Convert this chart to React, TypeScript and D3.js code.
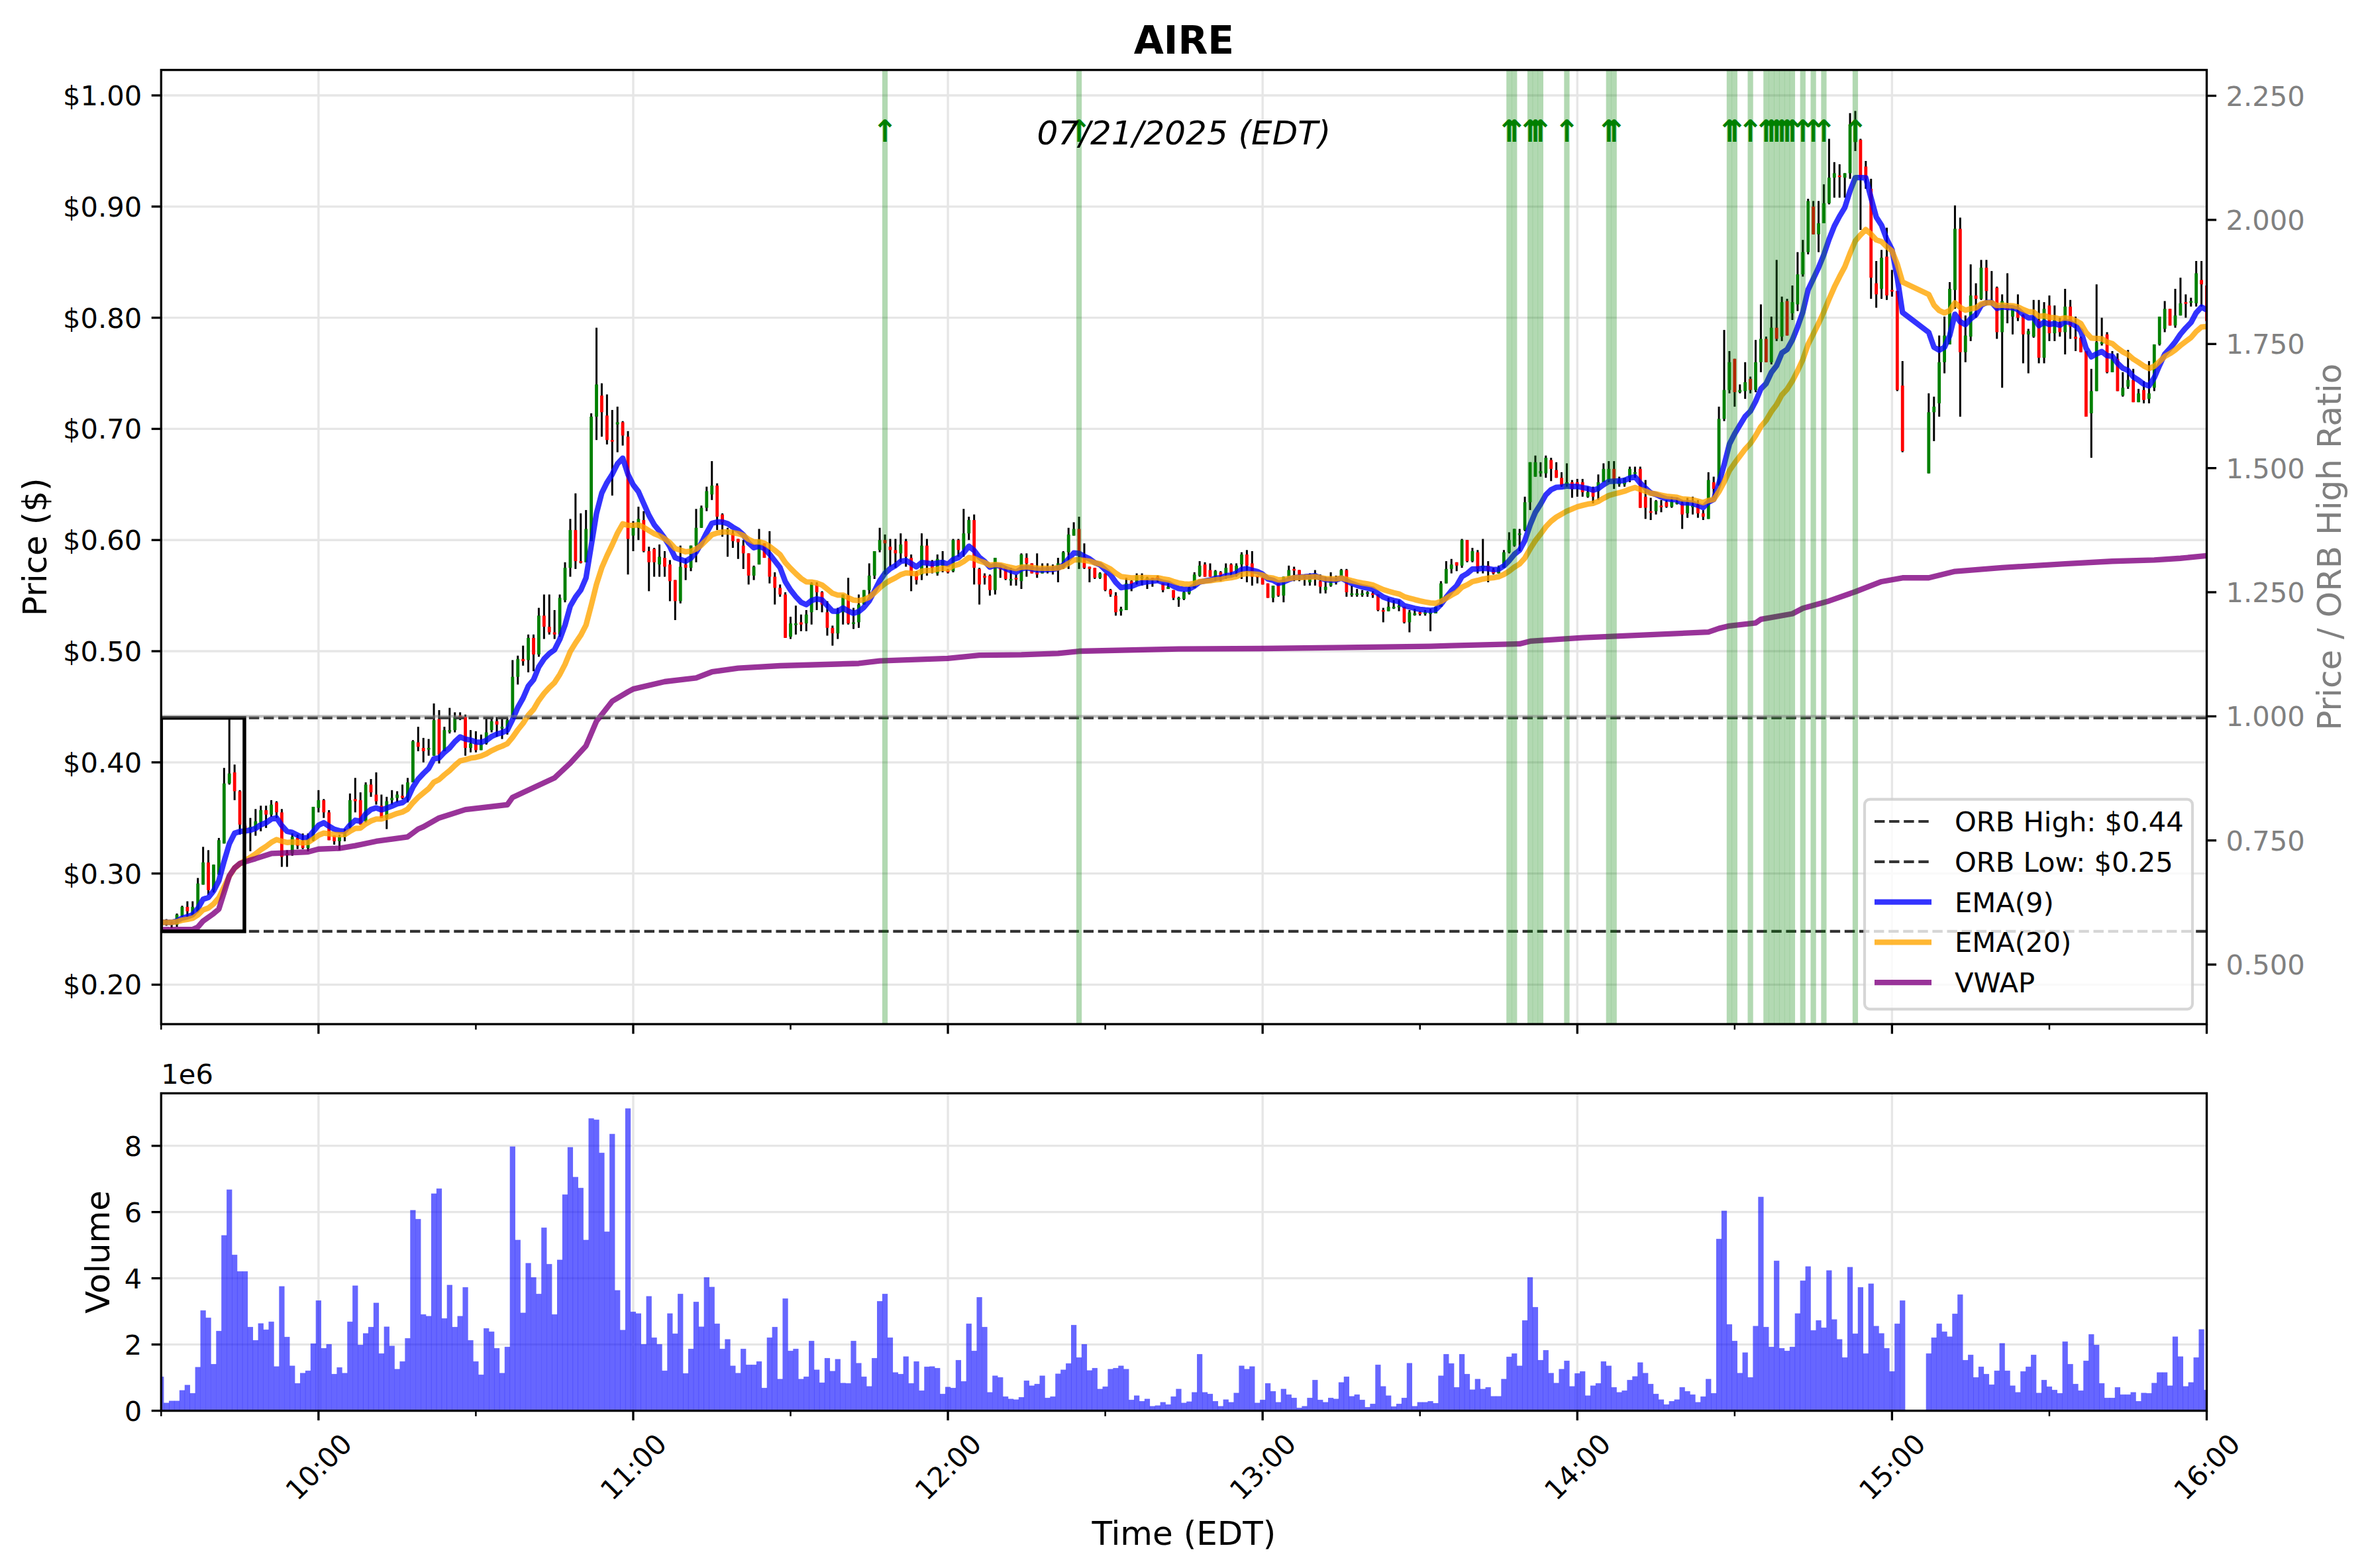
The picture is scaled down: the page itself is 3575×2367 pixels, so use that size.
import React from "react";
import * as d3 from "d3";

// ---- chart data (1-minute bars, minutes after 09:30) ----
const ticker = "AIRE";
const sessionLabel = "07/21/2025 (EDT)";
const orbHigh = 0.44;
const orbLow = 0.248;
const orbBoxMinutes = 15.87;
const missingMinutes = [333, 334, 335, 336];
const minutes = d3.range(0, 391).filter((m) => !missingMinutes.includes(m));

const opens = [
  .268,.256,.256,.254,.262,.270,.263,.266,.290,.310, .285,.299,.327,.381,.391,.374,.343,.340,.340,.346,
  .357,.353,.364,.355,.318,.318,.332,.329,.323,.330, .359,.366,.355,.334,.329,.333,.342,.367,.366,.347,
  .380,.371,.361,.350,.366,.368,.370,.368,.382,.418, .413,.413,.406,.439,.410,.429,.429,.442,.441,.413,
  .417,.411,.417,.429,.437,.431,.432,.440,.477,.493, .492,.512,.497,.532,.522,.517,.515,.546,.575,.609,
  .581,.580,.599,.711,.730,.712,.690,.704,.706,.693, .604,.611,.618,.590,.592,.578,.584,.578,.564,.545,
  .578,.575,.595,.611,.629,.641,.649,.623,.608,.606, .601,.595,.588,.568,.578,.597,.584,.567,.557,.551,
  .513,.525,.526,.525,.535,.560,.553,.535,.521,.516, .535,.550,.525,.526,.542,.555,.568,.591,.600,.594,
  .591,.588,.599,.584,.571,.569,.595,.580,.570,.577, .573,.572,.600,.591,.606,.618,.574,.568,.568,.555,
  .575,.575,.564,.566,.563,.584,.579,.571,.570,.572, .573,.574,.575,.589,.604,.610,.585,.576,.575,.566,
  .570,.555,.550,.536,.537,.563,.562,.566,.566,.566, .567,.561,.556,.555,.547,.547,.552,.557,.568,.578,
  .573,.567,.571,.570,.578,.572,.578,.587,.579,.568, .566,.561,.548,.561,.550,.565,.574,.573,.568,.562,
  .569,.563,.555,.559,.564,.567,.573,.552,.551,.552, .553,.552,.551,.537,.536,.540,.540,.540,.526,.534,
  .535,.534,.535,.534,.540,.561,.574,.580,.577,.600, .581,.589,.575,.577,.573,.570,.575,.589,.595,.605,
  .609,.634,.657,.660,.660,.672,.663,.656,.650,.652, .652,.652,.639,.646,.644,.652,.654,.664,.650,.650,
  .656,.660,.664,.639,.626,.626,.631,.634,.630,.634, .633,.624,.630,.632,.624,.619,.652,.649,.709,.735,
  .763,.733,.734,.745,.735,.760,.781,.760,.791,.783, .815,.804,.812,.839,.859,.900,.875,.885,.903,.926,
  .928,.926,.930,.958,.960,.936,.916,.831,.826,.855, .825,.824,.739,
  .660,.715,.723,.760,.776,.825,.880,.769,.783,.820, .817,.845,.815,.827,.787,.810,.801,.806,.802,.785,
  .783,.798,.764,.811,.786,.795,.787,.810,.783,.782, .770,.714,.734,.778,.785,.751,.763,.730,.738,.744,
  .724,.735,.727,.737,.776,.790,.808,.793,.802,.814, .815,.813,.834,.829,
];
const highs = [
  .270,.259,.257,.264,.271,.275,.275,.296,.324,.321, .308,.332,.395,.439,.398,.375,.345,.350,.358,.361,
  .361,.366,.365,.358,.321,.336,.335,.336,.336,.360, .375,.367,.357,.334,.335,.340,.372,.386,.373,.382,
  .385,.391,.371,.369,.375,.374,.380,.386,.420,.432, .422,.421,.453,.447,.432,.449,.445,.445,.443,.429,
  .428,.425,.440,.440,.441,.440,.440,.492,.496,.505, .515,.515,.539,.551,.551,.537,.551,.580,.619,.642,
  .624,.627,.714,.791,.741,.731,.717,.720,.707,.698, .617,.630,.626,.594,.593,.596,.590,.582,.564,.595,
  .583,.595,.628,.631,.648,.671,.651,.624,.611,.609, .601,.600,.588,.577,.610,.597,.608,.571,.560,.553,
  .531,.541,.533,.537,.562,.562,.554,.545,.523,.539, .551,.566,.539,.551,.555,.579,.590,.611,.605,.601,
  .601,.606,.601,.587,.572,.606,.601,.582,.587,.590, .574,.601,.601,.628,.621,.623,.575,.570,.569,.584,
  .577,.576,.575,.569,.588,.588,.579,.588,.579,.579, .578,.584,.590,.611,.616,.621,.597,.576,.575,.571,
  .570,.556,.553,.540,.566,.564,.570,.570,.567,.566, .568,.561,.561,.555,.549,.554,.558,.571,.581,.580,
  .579,.573,.572,.579,.579,.579,.589,.591,.590,.568, .567,.561,.559,.561,.567,.577,.576,.573,.569,.570,
  .573,.569,.567,.571,.568,.574,.574,.559,.556,.555, .554,.554,.551,.539,.548,.546,.546,.540,.537,.538,
  .536,.537,.538,.540,.563,.581,.583,.580,.601,.600, .593,.591,.601,.581,.575,.577,.591,.607,.610,.610,
  .639,.670,.676,.670,.676,.674,.670,.661,.669,.654, .655,.655,.648,.648,.659,.669,.671,.671,.657,.656,
  .666,.666,.666,.654,.638,.636,.636,.636,.639,.638, .636,.638,.639,.636,.627,.661,.657,.720,.789,.770,
  .763,.740,.760,.747,.780,.812,.783,.801,.852,.819, .817,.829,.859,.870,.907,.905,.905,.920,.961,.940,
  .938,.930,.984,.986,.961,.941,.925,.851,.861,.881, .843,.824,.761,
  .732,.729,.784,.801,.832,.901,.890,.802,.848,.831, .852,.852,.842,.828,.821,.840,.809,.821,.803,.790,
  .816,.816,.814,.820,.811,.800,.826,.816,.801,.783, .770,.754,.830,.800,.787,.770,.768,.751,.771,.754,
  .736,.743,.761,.776,.801,.815,.808,.826,.836,.821, .818,.851,.851,.851,
];
const lows = [
  .254,.253,.251,.252,.261,.261,.262,.265,.290,.281, .283,.299,.327,.380,.366,.335,.335,.320,.334,.338,
  .341,.351,.350,.306,.306,.316,.322,.322,.320,.329, .355,.350,.330,.326,.321,.329,.340,.355,.344,.346,
  .369,.362,.350,.340,.362,.364,.367,.364,.382,.410, .400,.406,.406,.399,.410,.426,.427,.438,.406,.409,
  .409,.411,.416,.427,.423,.421,.425,.440,.470,.487, .481,.482,.495,.511,.515,.511,.513,.544,.567,.574,
  .579,.580,.599,.690,.693,.686,.640,.679,.685,.569, .590,.600,.589,.554,.567,.567,.567,.545,.528,.543,
  .564,.572,.580,.611,.626,.636,.609,.603,.585,.593, .583,.574,.560,.564,.578,.584,.561,.542,.549,.512,
  .511,.515,.518,.518,.524,.537,.535,.514,.505,.511, .524,.524,.520,.521,.542,.550,.565,.589,.569,.576,
  .575,.580,.576,.554,.560,.564,.568,.570,.568,.571, .570,.571,.585,.585,.600,.560,.542,.560,.550,.551,
  .566,.564,.559,.559,.556,.567,.570,.566,.570,.570, .569,.562,.574,.574,.604,.574,.574,.562,.565,.565,
  .554,.549,.532,.532,.537,.554,.560,.559,.556,.558, .562,.553,.556,.546,.540,.546,.551,.557,.567,.567,
  .567,.563,.563,.565,.567,.567,.565,.562,.559,.561, .560,.548,.544,.549,.544,.565,.563,.563,.559,.559,
  .559,.552,.552,.558,.560,.567,.549,.549,.549,.549, .549,.548,.536,.526,.536,.538,.536,.525,.517,.532,
  .532,.532,.518,.534,.540,.561,.570,.572,.575,.580, .580,.570,.570,.562,.569,.570,.575,.588,.594,.590,
  .608,.627,.657,.657,.656,.653,.656,.648,.648,.638, .639,.639,.638,.633,.636,.652,.652,.646,.648,.648,
  .652,.656,.629,.619,.618,.623,.625,.629,.629,.632, .610,.620,.623,.620,.618,.619,.638,.649,.707,.732,
  .720,.732,.727,.732,.733,.751,.760,.758,.779,.779, .784,.798,.806,.837,.857,.875,.859,.885,.902,.908,
  .908,.908,.925,.950,.879,.916,.817,.809,.817,.816, .819,.734,.679,
  .660,.689,.711,.750,.776,.808,.711,.760,.779,.800, .816,.811,.811,.781,.737,.795,.785,.797,.759,.750,
  .782,.759,.759,.779,.779,.783,.767,.781,.770,.769, .711,.674,.734,.775,.750,.751,.734,.729,.736,.724,
  .724,.723,.723,.734,.775,.787,.793,.791,.802,.800, .810,.810,.810,.779,
];
const closes = [
  .256,.257,.255,.263,.270,.266,.270,.291,.310,.285, .308,.330,.381,.390,.374,.344,.340,.342,.347,.357,
  .353,.362,.355,.315,.317,.333,.325,.323,.332,.360, .366,.355,.330,.329,.333,.336,.366,.365,.344,.380,
  .373,.365,.350,.365,.368,.371,.368,.382,.419,.414, .410,.413,.438,.407,.429,.429,.441,.440,.413,.417,
  .411,.417,.427,.437,.434,.432,.438,.477,.493,.491, .512,.497,.532,.522,.517,.515,.548,.575,.609,.581,
  .580,.610,.711,.740,.715,.690,.689,.706,.694,.601, .612,.619,.590,.580,.580,.585,.576,.563,.545,.576,
  .575,.595,.611,.629,.644,.649,.621,.616,.609,.599, .598,.588,.568,.576,.600,.584,.567,.557,.551,.512,
  .525,.525,.524,.533,.561,.553,.542,.521,.516,.535, .551,.525,.526,.542,.555,.568,.590,.600,.597,.591,
  .588,.596,.585,.568,.564,.595,.578,.575,.583,.582, .571,.600,.591,.606,.618,.575,.560,.566,.555,.584,
  .574,.565,.565,.565,.587,.579,.570,.569,.573,.575, .574,.579,.589,.605,.610,.586,.575,.574,.566,.570,
  .555,.551,.535,.538,.561,.560,.568,.567,.566,.565, .566,.555,.558,.548,.548,.553,.557,.569,.577,.567,
  .567,.572,.568,.575,.571,.577,.587,.577,.567,.567, .560,.548,.559,.550,.567,.573,.573,.569,.568,.569,
  .570,.558,.558,.563,.564,.573,.553,.552,.552,.552, .553,.551,.537,.536,.540,.540,.541,.526,.535,.534,
  .534,.535,.535,.540,.561,.574,.578,.577,.600,.581, .590,.574,.577,.573,.570,.575,.589,.600,.610,.606,
  .634,.670,.670,.662,.674,.664,.656,.649,.652,.646, .649,.643,.643,.639,.652,.664,.664,.654,.654,.656,
  .664,.661,.629,.629,.625,.635,.630,.630,.635,.634, .623,.634,.631,.624,.621,.654,.646,.709,.735,.760,
  .733,.735,.742,.735,.760,.781,.760,.791,.781,.814, .784,.814,.839,.859,.905,.875,.885,.903,.926,.930,
  .927,.930,.974,.974,.926,.925,.836,.821,.854,.820, .824,.735,.680,
  .715,.720,.760,.784,.826,.880,.769,.784,.820,.817, .845,.824,.814,.787,.815,.807,.809,.800,.785,.788,
  .801,.764,.808,.786,.798,.787,.810,.792,.781,.769, .711,.734,.778,.778,.751,.763,.734,.737,.744,.724,
  .732,.726,.732,.776,.801,.808,.793,.802,.813,.813, .815,.840,.830,.797,
];
// volume per bar, in millions of shares
const volumesM = [
  1.03,.24,.30,.30,.62,.78,.53,1.32,3.03,2.81, 1.41,2.41,5.30,6.68,4.71,4.21,4.21,2.53,2.13,2.64,
  2.45,2.69,1.34,3.76,2.23,1.36,.83,1.14,1.21,2.03, 3.33,1.89,2.01,1.11,1.31,1.14,2.69,3.78,1.99,2.34,
  2.53,3.26,1.73,2.54,1.96,1.26,1.49,2.19,6.06,5.79, 2.91,2.86,6.56,6.71,2.79,3.80,2.53,2.86,3.73,2.13,
  1.49,1.09,2.49,2.39,1.89,1.14,1.93,7.98,5.16,2.96, 4.46,4.03,3.53,5.53,4.43,2.91,4.56,6.53,7.96,7.06,
  6.73,5.16,8.83,8.79,7.79,5.41,8.36,3.64,2.44,9.13, 2.99,2.94,2.01,3.46,2.21,2.01,1.21,2.94,2.33,3.53,
  1.13,1.87,3.29,2.54,4.03,3.74,2.63,1.87,2.16,1.36, 1.14,1.87,1.39,1.39,1.49,.69,2.21,2.53,.96,3.39,
  1.81,1.87,.96,1.03,2.11,1.24,.85,1.59,1.20,1.56, .84,.83,2.11,1.44,1.03,.74,1.59,3.31,3.53,2.21,
  1.16,1.11,1.64,.83,1.49,.61,1.33,1.34,1.29,.51, .72,.69,1.53,.89,2.63,1.81,3.43,2.53,.56,1.06,
  1.01,.43,.36,.34,.41,.91,.76,.81,1.06,.39, .43,1.12,1.24,1.43,2.59,1.61,2.01,1.22,1.29,.66,
  .73,1.26,1.29,1.36,1.26,.33,.46,.29,.36,.14, .16,.26,.19,.43,.66,.24,.28,.56,1.71,.56,
  .51,.29,.14,.34,.26,.54,1.36,1.26,1.34,.24, .33,.83,.59,.26,.66,.49,.39,.09,.14,.39,
  .93,.33,.26,.39,.36,.86,1.03,.44,.49,.33, .11,.21,1.39,.74,.46,.13,.21,.39,1.44,.14,
  .26,.26,.29,.23,1.06,1.71,1.43,.71,1.71,1.11, .64,.96,.66,.71,.44,.44,.96,1.63,1.73,1.36,
  2.73,4.03,3.13,1.53,1.83,1.14,.84,1.26,1.51,.74, 1.13,1.19,.46,.76,.83,1.49,1.36,.71,.56,.61,
  .93,1.04,1.46,1.14,.81,.51,.34,.19,.29,.34, .71,.59,.49,.26,.43,.96,.53,5.19,6.04,2.61,
  2.11,1.14,1.76,1.01,2.56,6.46,2.53,1.93,4.53,1.89, 1.81,1.93,2.94,3.93,4.36,2.43,2.73,2.51,4.24,2.76,
  2.16,1.61,4.34,2.33,3.73,1.73,3.84,2.56,2.34,1.89, 1.19,2.63,3.33,
  1.73,2.21,2.63,2.39,2.24,2.93,3.51,1.53,1.69,1.01, 1.33,1.11,.79,1.21,2.04,1.21,.76,.56,1.19,1.33,
  1.69,.54,.93,.73,.63,.53,2.09,1.41,.81,.61, 1.51,2.31,1.99,.83,.39,.39,.71,.49,.49,.56,
  .29,.54,.53,.84,1.16,1.16,.76,2.24,1.64,.74, .86,1.61,2.46,.63,
];
const volumes = volumesM.map((v) => v * 1e6);

// VWAP (includes pre-market, so it's not recomputed here)
const vwapMinutes = [
  0, 6, 7, 8, 10, 11, 12, 13, 14, 15, 17, 18, 21, 26, 28, 30, 34, 37, 41, 47,
  49, 50, 53, 58, 66, 67, 71, 75, 78, 81, 83, 86, 89, 90, 96, 102, 105, 110, 118, 133,
  137, 150, 156, 164, 171, 175, 194, 210, 242, 246, 259, 261, 271, 295, 297, 299, 304, 305, 311, 313,
  318, 323, 328, 332, 337, 342, 351, 363, 372, 380, 385, 390,
];
const vwapValues = [
  .2495,.2497,.2518,.2573,.264,.268,.283,.298,.305,.309,.312,.3134,.318,.319,.3194,.322,.3227,.325,.329,.333,
  .340,.342,.350,.3575,.3619,.3685,.3773,.386,.3993,.4148,.437,.455,.4634,.466,.4726,.476,.4814,.4847,.4869,.489,
  .4913,.4935,.4964,.4968,.498,.500,.502,.5024,.5044,.505,.5066,.509,.5122,.5172,.5205,.5228,.5254,.5287,.5337,.5386,
  .5452,.5535,.5626,.566,.566,.5718,.5752,.5786,.5809,.582,.5836,.5859,
];

// breakout signal bars
const signalMinutes = [138, 175, 257, 258, 261, 262, 263, 268, 276, 277, 299, 300, 303, 306, 307, 308, 309, 310, 311, 313, 315, 317, 323];

const priceTicks = [0.2, 0.3, 0.4, 0.5, 0.6, 0.7, 0.8, 0.9, 1.0];
const ratioTicks = [0.5, 0.75, 1.0, 1.25, 1.5, 1.75, 2.0, 2.25];
const volumeTicks = [0, 2e6, 4e6, 6e6, 8e6];
const hourTicks = [30, 90, 150, 210, 270, 330, 390];
const hourLabels = ["10:00", "11:00", "12:00", "13:00", "14:00", "15:00", "16:00"];
const halfHourTicks = [0, 60, 120, 180, 240, 300, 360];

// ---- layout ----
const W = 3575;
const H = 2367;
const L = 243.3;
const R = 3331.5;
const PT = 105.6;
const PB = 1546;
const VT = 1650.4;
const VB = 2129.6;
const FS = 41.67;
const FONT = "DejaVu Sans";
const GRID = "#e6e6e6";

function ema(values: number[], span: number) {
  const a = 2 / (span + 1);
  let prev = values[0];
  return values.map((v, i) => (prev = i === 0 ? v : a * v + (1 - a) * prev));
}

export default function App() {
  const x = d3.scaleLinear().domain([0, 390]).range([L, R]);
  const y = d3.scaleLinear().domain([0.1645, 1.0229]).range([PB, PT]);
  const yR = d3.scaleLinear().domain([0.38, 2.302]).range([PB, PT]);
  const yV = d3.scaleLinear().domain([0, (d3.max(volumes) as number) * 1.05]).range([VB, VT]);

  const ema9 = ema(closes, 9);
  const ema20 = ema(closes, 20);
  const line = d3
    .line<number>()
    .x((_, i) => x(minutes[i]))
    .y((d) => y(d));
  const vwapLine = d3
    .line<number>()
    .x((_, i) => x(vwapMinutes[i]))
    .y((d) => y(d));

  const step = x(1) - x(0);
  const legendItems = [
    { label: `ORB High: $${orbHigh.toFixed(2)}`, color: "#333333", dash: "15.4 6.7", w: 4.17 },
    { label: `ORB Low: $${orbLow.toFixed(2)}`, color: "#333333", dash: "15.4 6.7", w: 4.17 },
    { label: "EMA(9)", color: "blue", dash: undefined, w: 8.33, op: 0.8 },
    { label: "EMA(20)", color: "orange", dash: undefined, w: 8.33, op: 0.8 },
    { label: "VWAP", color: "purple", dash: undefined, w: 8.33, op: 0.8 },
  ];

  return (
    <div>
      <style>{"body{margin:0}"}</style>
      <svg width={W} height={H} style={{ display: "block", fontFamily: FONT }}>
        <defs>
          <clipPath id="priceClip">
            <rect x={L} y={PT} width={R - L} height={PB - PT} />
          </clipPath>
          <clipPath id="volClip">
            <rect x={L} y={VT} width={R - L} height={VB - VT} />
          </clipPath>
        </defs>
        <rect width={W} height={H} fill="white" />

        {/* title */}
        <text x={(L + R) / 2} y={80.5} textAnchor="middle" fontSize={58.3} fontWeight="bold">
          {ticker}
        </text>

        {/* ===== price panel ===== */}
        <g>
          {priceTicks.map((t) => (
            <line key={t} x1={L} x2={R} y1={y(t)} y2={y(t)} stroke={GRID} strokeWidth={3.33} />
          ))}
          {hourTicks.map((t) => (
            <line key={t} x1={x(t)} x2={x(t)} y1={PT} y2={PB} stroke={GRID} strokeWidth={3.33} />
          ))}
        </g>
        <g clipPath="url(#priceClip)">
          {/* candles */}
          {minutes.map((m, i) => (
            <line key={"w" + m} x1={x(m)} x2={x(m)} y1={y(highs[i])} y2={y(lows[i])} stroke="black" strokeWidth={3} />
          ))}
          {minutes.map((m, i) => {
            const top = y(Math.max(opens[i], closes[i]));
            const h = Math.max(2.5, Math.abs(y(opens[i]) - y(closes[i])));
            return (
              <rect
                key={"b" + m}
                x={x(m) - 2.4}
                width={4.8}
                y={top}
                height={h}
                fill={closes[i] >= opens[i] ? "green" : "red"}
              />
            );
          })}
          {/* ORB levels */}
          <line x1={L} x2={R} y1={y(orbHigh)} y2={y(orbHigh)} stroke="#333333" strokeWidth={4.17} strokeDasharray="15.4 6.7" />
          <line x1={L} x2={R} y1={y(orbLow)} y2={y(orbLow)} stroke="#333333" strokeWidth={4.17} strokeDasharray="15.4 6.7" />
          {/* indicators */}
          <path d={line(ema9) || ""} fill="none" stroke="blue" strokeOpacity={0.8} strokeWidth={8.33} strokeLinejoin="round" />
          <path d={line(ema20) || ""} fill="none" stroke="orange" strokeOpacity={0.8} strokeWidth={8.33} strokeLinejoin="round" />
          <path d={vwapLine(vwapValues) || ""} fill="none" stroke="purple" strokeOpacity={0.8} strokeWidth={8.33} strokeLinejoin="round" />
          {/* opening range box */}
          <rect
            x={x(0)}
            y={y(orbHigh)}
            width={x(orbBoxMinutes) - x(0)}
            height={y(orbLow) - y(orbHigh)}
            fill="none"
            stroke="black"
            strokeWidth={5.5}
          />
          {/* signal bands */}
          {signalMinutes.map((m) => (
            <rect key={"s" + m} x={x(m) - step * 0.52} width={step * 1.04} y={PT} height={PB - PT} fill="green" fillOpacity={0.3} />
          ))}
          {/* ratio = 1 line (secondary axis) */}
          <line x1={L} x2={R} y1={yR(1)} y2={yR(1)} stroke="gray" strokeOpacity={0.5} strokeWidth={4.17} />
          {signalMinutes.map((m) => (
            <text key={"a" + m} x={x(m)} y={214} textAnchor="middle" fontSize={46} fontWeight="bold" fill="green">
              ↑
            </text>
          ))}
        </g>
        <text x={(L + R) / 2} y={218} textAnchor="middle" fontSize={50} fontStyle="italic">
          {sessionLabel}
        </text>

        {/* price axes frame + ticks */}
        <rect x={L} y={PT} width={R - L} height={PB - PT} fill="none" stroke="black" strokeWidth={3.33} />
        {priceTicks.map((t) => (
          <g key={t}>
            <line x1={L - 14.6} x2={L} y1={y(t)} y2={y(t)} stroke="black" strokeWidth={3.33} />
            <text x={L - 29} y={y(t)} dy="0.36em" textAnchor="end" fontSize={FS}>
              {"$" + t.toFixed(2)}
            </text>
          </g>
        ))}
        {ratioTicks.map((t) => (
          <g key={t}>
            <line x1={R} x2={R + 14.6} y1={yR(t)} y2={yR(t)} stroke="black" strokeWidth={3.33} />
            <text x={R + 29} y={yR(t)} dy="0.36em" textAnchor="start" fontSize={FS} fill="gray">
              {t.toFixed(3)}
            </text>
          </g>
        ))}
        {hourTicks.map((t) => (
          <line key={t} x1={x(t)} x2={x(t)} y1={PB} y2={PB + 14.6} stroke="black" strokeWidth={3.33} />
        ))}
        {halfHourTicks.map((t) => (
          <line key={t} x1={x(t)} x2={x(t)} y1={PB} y2={PB + 8.3} stroke="black" strokeWidth={2.5} />
        ))}
        <text transform={`translate(70, ${(PT + PB) / 2}) rotate(-90)`} textAnchor="middle" fontSize={50}>
          Price ($)
        </text>
        <text transform={`translate(3534, ${(PT + PB) / 2}) rotate(-90)`} textAnchor="middle" fontSize={50} fill="gray">
          Price / ORB High Ratio
        </text>

        {/* legend */}
        <g>
          <rect x={2815} y={1206.7} width={495} height={316.6} rx={8} fill="white" fillOpacity={0.8} stroke="#cccccc" strokeOpacity={0.8} strokeWidth={4.17} />
          {legendItems.map((it, i) => {
            const cy = 1240 + i * 60.8;
            return (
              <g key={it.label}>
                <line
                  x1={2830}
                  x2={2916}
                  y1={cy}
                  y2={cy}
                  stroke={it.color}
                  strokeOpacity={it.op ?? 1}
                  strokeWidth={it.w}
                  strokeDasharray={it.dash}
                />
                <text x={2951} y={cy} dy="0.36em" fontSize={FS}>
                  {it.label}
                </text>
              </g>
            );
          })}
        </g>

        {/* ===== volume panel ===== */}
        <g>
          {volumeTicks.map((t) => (
            <line key={t} x1={L} x2={R} y1={yV(t)} y2={yV(t)} stroke={GRID} strokeWidth={3.33} />
          ))}
          {hourTicks.map((t) => (
            <line key={t} x1={x(t)} x2={x(t)} y1={VT} y2={VB} stroke={GRID} strokeWidth={3.33} />
          ))}
        </g>
        <g clipPath="url(#volClip)">
          {minutes.map((m, i) => (
            <rect
              key={"v" + m}
              x={x(m) - step * 0.52}
              width={step * 1.04}
              y={yV(volumes[i])}
              height={VB - yV(volumes[i])}
              fill="blue"
              fillOpacity={0.6}
            />
          ))}
        </g>
        <rect x={L} y={VT} width={R - L} height={VB - VT} fill="none" stroke="black" strokeWidth={3.33} />
        {volumeTicks.map((t) => (
          <g key={t}>
            <line x1={L - 14.6} x2={L} y1={yV(t)} y2={yV(t)} stroke="black" strokeWidth={3.33} />
            <text x={L - 29} y={yV(t)} dy="0.36em" textAnchor="end" fontSize={FS}>
              {String(t / 1e6)}
            </text>
          </g>
        ))}
        <text x={L} y={1636} fontSize={FS}>
          1e6
        </text>
        {hourTicks.map((t, i) => (
          <g key={t}>
            <line x1={x(t)} x2={x(t)} y1={VB} y2={VB + 14.6} stroke="black" strokeWidth={3.33} />
            <text transform={`translate(${x(t)}, 2214) rotate(-45)`} textAnchor="middle" dy="0.36em" fontSize={FS}>
              {hourLabels[i]}
            </text>
          </g>
        ))}
        {halfHourTicks.map((t) => (
          <line key={t} x1={x(t)} x2={x(t)} y1={VB} y2={VB + 8.3} stroke="black" strokeWidth={2.5} />
        ))}
        <text transform={`translate(165, ${(VT + VB) / 2}) rotate(-90)`} textAnchor="middle" fontSize={50}>
          Volume
        </text>
        <text x={(L + R) / 2} y={2332} textAnchor="middle" fontSize={50}>
          Time (EDT)
        </text>
      </svg>
    </div>
  );
}
